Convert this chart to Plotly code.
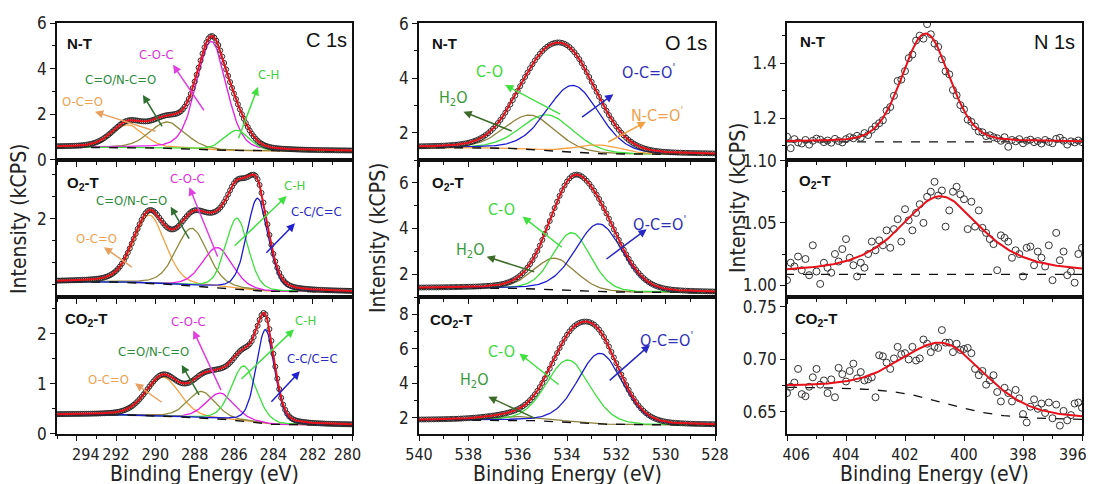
import numpy as np
import plotly.graph_objects as go

# page is rendered with an 8px body margin: figure pixel = reference pixel - OFF
OFF = 8
W, H = 1098, 484

# ======================= values =======================
# ---- C 1s (binding energy eV / kCPS) ----
C_NAMES_NT = ["O-C=O", "C=O/N-C=O", "C-O-C", "C-H"]
C_CENTER_NT = [291.4, 289.4, 287.15, 285.85]
C_HEIGHT_NT = [1.0, 1.15, 4.75, 0.9]
C_FWHM_NT = [1.9, 2.1, 1.8, 1.5]
C_BG_NT = [0.55, 0.38]

C_NAMES_O2 = ["O-C=O", "C=O/N-C=O", "C-O-C", "C-H", "C-C/C=C"]
C_CENTER_O2 = [290.3, 288.15, 286.85, 285.85, 284.8]
C_HEIGHT_O2 = [1.55, 1.3, 0.9, 1.6, 2.1]
C_FWHM_O2 = [1.9, 1.9, 1.8, 1.35, 1.3]
C_BG_O2 = [0.57, 0.34]

C_NAMES_CO2 = ["O-C=O", "C=O/N-C=O", "C-O-C", "C-H", "C-C/C=C"]
C_CENTER_CO2 = [289.6, 287.65, 286.7, 285.5, 284.4]
C_HEIGHT_CO2 = [0.78, 0.53, 0.52, 1.1, 1.88]
C_FWHM_CO2 = [2.0, 1.7, 1.7, 1.5, 1.1]
C_BG_CO2 = [0.38, 0.17]
C_ETA = 0.25

# ---- O 1s ----
O_NAMES_NT = ["H2O", "C-O", "O-C=O'", "N-C=O'"]
O_CENTER_NT = [535.5, 534.8, 533.75, 532.7]
O_HEIGHT_NT = [1.25, 1.3, 2.45, 0.32]
O_FWHM_NT = [2.4, 2.5, 2.5, 2.2]
O_BG_NT = [1.45, 1.2]

O_NAMES_O2 = ["H2O", "C-O", "O-C=O'"]
O_CENTER_O2 = [534.5, 533.8, 532.7]
O_HEIGHT_O2 = [1.35, 2.5, 2.95]
O_FWHM_O2 = [2.0, 1.8, 2.25]
O_BG_O2 = [1.39, 1.2]

O_NAMES_CO2 = ["H2O", "C-O", "O-C=O'"]
O_CENTER_CO2 = [536.0, 533.95, 532.65]
O_HEIGHT_CO2 = [0.22, 3.6, 4.1]
O_FWHM_CO2 = [2.6, 2.1, 2.15]
O_BG_CO2 = [1.85, 1.55]
O_ETA = 0.2

# ---- N 1s : measured points, 406 -> 396 eV, 0.125 eV step ----
N_START, N_STEP = 406.0, -0.125
N_NT_DATA = [1.133, 1.091, 1.124, 1.112, 1.108, 1.121, 1.104, 1.118, 1.126, 1.122, 1.113,
             1.119, 1.111, 1.125, 1.117, 1.112, 1.124,
             1.131, 1.127, 1.136, 1.129, 1.146, 1.139, 1.158, 1.171,
             1.182, 1.193, 1.228, 1.241, 1.282, 1.336, 1.341, 1.372,
             1.419, 1.432, 1.483, 1.501, 1.490, 1.543, 1.506, 1.472,
             1.460, 1.415, 1.371, 1.360, 1.303, 1.284, 1.248, 1.232,
             1.195, 1.187, 1.170, 1.152, 1.149, 1.135, 1.138, 1.131,
             1.127, 1.118, 1.131, 1.096, 1.121, 1.116, 1.124, 1.109, 1.118, 1.122, 1.113, 1.117,
             1.108, 1.121, 1.114, 1.109, 1.125, 1.129, 1.118, 1.104, 1.116, 1.112, 1.119, 1.113]
N_O2_DATA = [1.004, 1.018, 1.015, 1.023, 1.012, 1.021, 1.008, 1.032, 1.011, 1.001, 1.018,
             1.014, 1.010, 1.025, 1.019, 1.029, 1.037, 1.022, 1.016, 1.007, 1.018, 1.014,
             1.025, 1.035, 1.028, 1.036, 1.032, 1.044, 1.030, 1.045, 1.053, 1.035, 1.061,
             1.052, 1.044, 1.058, 1.065, 1.050, 1.071, 1.075, 1.083, 1.072, 1.076, 1.047,
             1.060, 1.075, 1.079, 1.073, 1.069, 1.045, 1.067, 1.047, 1.060, 1.046, 1.042,
             1.037, 1.033, 1.012, 1.040, 1.038, 1.035, 1.022, 1.028, 1.025, 1.007, 1.030,
             1.031, 1.016, 1.027, 1.022, 1.015, 1.032, 1.004, 1.042, 1.020, 1.027, 1.008,
             1.011, 1.002, 1.025, 1.030]
N_CO2_DATA = [0.668, 0.674, 0.678, 0.691, 0.667, 0.665, 0.674, 0.683, 0.691, 0.676, 0.680,
              0.668, 0.681, 0.664, 0.692, 0.686, 0.679, 0.689, 0.696, 0.682, 0.688, 0.680,
              0.681, 0.683, 0.664, 0.704, 0.703, 0.697, 0.691, 0.701, 0.712, 0.705, 0.706,
              0.700, 0.712, 0.699, 0.701, 0.719, 0.715, 0.707, 0.712, 0.711, 0.728, 0.716,
              0.716, 0.707, 0.715, 0.709, 0.710, 0.711, 0.706, 0.691, 0.685, 0.689, 0.676,
              0.680, 0.685, 0.669, 0.660, 0.673, 0.668, 0.660, 0.671, 0.663, 0.648, 0.640,
              0.655, 0.662, 0.653, 0.658, 0.649, 0.659, 0.644, 0.657, 0.637, 0.651, 0.642,
              0.647, 0.658, 0.659, 0.654]
# fitted N 1s peak: centre, height, fwhm, lorentz fraction ; background left/right
N_PEAK_NT = [401.3, 0.395, 1.9, 0.2]
N_BG_NT = [1.114, 1.114]
N_PEAK_O2 = [400.8, 0.0627, 3.3, 0.7]
N_BG_O2 = [1.0087, 1.0087]
N_PEAK_CO2 = [400.6, 0.057, 3.4, 0.4]
N_BG_CO2 = [0.6735, 0.643]

SAMPLES = ["N-T", "O<sub>2</sub>-T", "CO<sub>2</sub>-T"]
CORE_LEVELS = ["C 1s", "O 1s", "N 1s"]
# bottom-axis tick values / labels of each column
C_XTICKS = [294, 292, 290, 288, 286, 284, 282, 280]
O_XTICKS = [540, 538, 536, 534, 532, 530, 528]
N_XTICKS = [406, 404, 402, 400, 398, 396]

# ======================= styles / layout =======================
FONT = "Liberation Sans Narrow, Arial Narrow, DejaVu Sans Condensed, Arial, sans-serif"
FSP = "\u2007"  # figure space used to nudge the outermost tick labels inwards
LINE_COL = {"O-C=O": "#F4A040", "C=O/N-C=O": "#8F8A3C", "C-O-C": "#E81CE8", "C-H": "#3CE03C",
            "C-C/C=C": "#1C1CD0", "H2O": "#8F803C", "C-O": "#3CE03C", "O-C=O'": "#1C1CD0",
            "N-C=O'": "#F4A040"}
TXT_COL = {"O-C=O": "#F0A050", "C=O/N-C=O": "#2E8B3A", "C-O-C": "#E030E0", "C-H": "#40D040",
           "C-C/C=C": "#2A2AC8", "H2O": "#3A9A3A", "C-O": "#40D840", "O-C=O'": "#3030B8",
           "N-C=O'": "#F0A050"}
ARR_COL = {"O-C=O": "#E8A060", "C=O/N-C=O": "#2F6F30", "C-O-C": "#E040E0", "C-H": "#40E040",
           "C-C/C=C": "#2020D0", "H2O": "#3D6B2A", "C-O": "#40E040", "O-C=O'": "#2828C8",
           "N-C=O'": "#F0A040"}
LABEL_TXT = {"O-C=O": "O-C=O", "C=O/N-C=O": "C=O/N-C=O", "C-O-C": "C-O-C", "C-H": "C-H",
             "C-C/C=C": "C-C/C=C", "H2O": "H<sub>2</sub>O", "C-O": "C-O",
             "O-C=O'": "O-C=O<sup>'</sup>", "N-C=O'": "N-C=O<sup>'</sup>"}

COLS_PX = [(57, 352), (419, 715), (787, 1082)]
ROWS_PX = [(23, 160), (160, 297), (297, 434)]
XRANGE = [[295, 280], [540, 528], [406, 396]]
XTICKS = [C_XTICKS, O_XTICKS, N_XTICKS]
XPAD = [(2, 1), (0, 0), (2, 2)]  # figure spaces before first / after last label
YRANGE = [[[-0.01, 6.01], [0.227, 3.34], [-0.005, 2.74]],
          [[1.0, 6.02], [1.01, 6.99], [1.05, 9.02]],
          [[1.048, 1.547], [0.9905, 1.1005], [0.629, 0.7595]]]
YDTICK = [[2, 2, 1], [2, 2, 2], [0.2, 0.05, 0.05]]
YMINOR = [[1, 0.5, 0.5], [1, 1, 1], [0.1, 0.025, 0.025]]
YFMT = [["d", "d", "d"], ["d", "d", "d"], [".1f", ".2f", ".2f"]]

# label placement (text x,y ; arrow tail x,y ; arrow head x,y) in data units
LABELS = {
    (0, 0): [("O-C=O", 293.7, 2.56, 289.92, 1.23, 293.07, 2.11),
             ("C=O/N-C=O", 291.75, 3.51, 289.61, 1.40, 290.63, 2.85),
             ("C-O-C", 289.92, 4.61, 287.48, 2.11, 289.10, 4.17),
             ("C-H", 284.27, 3.73, 285.80, 0.88, 284.78, 3.20)],
    (0, 1): [("C=O/N-C=O", 291.2, 2.43, 288.24, 1.52, 289.22, 2.28),
             ("C-O-C", 288.37, 2.92, 286.80, 1.11, 288.27, 2.72),
             ("C-H", 282.9, 2.77, 286.04, 1.36, 283.32, 2.52),
             ("C-C/C=C", 281.8, 2.17, 284.43, 1.20, 282.90, 1.90),
             ("O-C=O", 292.98, 1.55, 291.12, 0.88, 292.61, 1.36)],
    (0, 2): [("C-O-C", 288.29, 2.25, 286.63, 0.85, 288.07, 2.07),
             ("C-H", 282.39, 2.27, 285.70, 1.07, 282.95, 2.09),
             ("C=O/N-C=O", 290.1, 1.65, 287.73, 0.75, 288.66, 1.38),
             ("C-C/C=C", 282.02, 1.51, 284.17, 0.61, 282.65, 1.25),
             ("O-C=O", 292.39, 1.08, 289.60, 0.61, 291.03, 1.01)],
    (1, 0): [("C-O", 537.16, 4.23, 534.22, 2.65, 536.51, 3.75),
             ("H2O", 538.59, 3.26, 536.18, 2.04, 538.20, 2.77),
             ("O-C=O'", 530.7, 4.23, 533.45, 2.53, 532.12, 3.41),
             ("N-C=O'", 530.34, 2.65, 532.39, 1.63, 530.80, 2.40)],
    (1, 1): [("C-O", 536.65, 4.81, 534.15, 3.13, 535.80, 4.52),
             ("H2O", 537.93, 3.06, 535.27, 2.09, 537.26, 2.77),
             ("O-C=O'", 530.23, 4.23, 532.46, 2.62, 530.77, 3.97)],
    (1, 2): [("C-O", 536.66, 5.84, 534.28, 3.86, 535.93, 5.74),
             ("H2O", 537.76, 4.19, 535.23, 1.92, 537.19, 3.22),
             ("O-C=O'", 529.96, 6.52, 532.33, 4.09, 530.64, 6.23)],
}
SAMPLE_POS = {(0, 0): (294.59, 5.12), (0, 1): (294.59, 2.81), (0, 2): (294.68, 2.28),
              (1, 0): (539.55, 5.27), (1, 1): (539.55, 5.97), (1, 2): (539.62, 7.68),
              (2, 0): (405.62, 1.479), (2, 1): (405.67, 1.0833), (2, 2): (405.81, 0.7376)}
CORE_POS = {0: (280.16, 5.26), 1: (528.23, 5.27), 2: (396.18, 1.479)}
LABEL_SIZE = [13, 16]


# ======================= model helpers =======================
def pv(E, c, h, w, eta):
    x = (E - c) / w
    return h * ((1 - eta) * np.exp(-4 * np.log(2) * x ** 2) + eta / (1 + 4 * x ** 2))


def shirley(E, total, left, right):
    cum = np.concatenate([[0.0], np.cumsum(0.5 * (total[1:] + total[:-1]) * np.diff(E))])
    frac = cum / cum[-1] if cum[-1] > 0 else np.zeros_like(cum)
    return right + (left - right) * frac


def axid(col, row):
    p = col * 3 + row
    return "" if p == 0 else str(p + 1)


def px_x(px):
    return (px - OFF) / W


def px_y(py):
    return 1 - (py - OFF) / H


def tick_text(vals, pad):
    txt = [str(v) for v in vals]
    txt[0] = FSP * pad[0] + txt[0]
    txt[-1] = txt[-1] + FSP * pad[1]
    return txt


fig = go.Figure()
E_C = np.linspace(280, 295, 301)
E_O = np.linspace(528, 540, 241)
E_N = np.linspace(396, 406, 201)

XPS = {
    (0, 0): (E_C, C_NAMES_NT, C_CENTER_NT, C_HEIGHT_NT, C_FWHM_NT, C_BG_NT, C_ETA),
    (0, 1): (E_C, C_NAMES_O2, C_CENTER_O2, C_HEIGHT_O2, C_FWHM_O2, C_BG_O2, C_ETA),
    (0, 2): (E_C, C_NAMES_CO2, C_CENTER_CO2, C_HEIGHT_CO2, C_FWHM_CO2, C_BG_CO2, C_ETA),
    (1, 0): (E_O, O_NAMES_NT, O_CENTER_NT, O_HEIGHT_NT, O_FWHM_NT, O_BG_NT, O_ETA),
    (1, 1): (E_O, O_NAMES_O2, O_CENTER_O2, O_HEIGHT_O2, O_FWHM_O2, O_BG_O2, O_ETA),
    (1, 2): (E_O, O_NAMES_CO2, O_CENTER_CO2, O_HEIGHT_CO2, O_FWHM_CO2, O_BG_CO2, O_ETA),
}
NDATA = {(2, 0): (N_NT_DATA, N_PEAK_NT, N_BG_NT),
         (2, 1): (N_O2_DATA, N_PEAK_O2, N_BG_O2),
         (2, 2): (N_CO2_DATA, N_PEAK_CO2, N_BG_CO2)}

annotations = []
for (col, row), (E, names, cen, hei, fw, bg, eta) in XPS.items():
    s = axid(col, row)
    xa, ya = "x" + s, "y" + s
    comps = [pv(E, c, h, w, eta) for c, h, w in zip(cen, hei, fw)]
    total = np.sum(comps, axis=0)
    B = shirley(E, total, bg[0], bg[1])
    for n, cp in zip(names, comps):
        fig.add_trace(go.Scatter(x=E, y=B + cp, mode="lines", xaxis=xa, yaxis=ya,
                                 line=dict(color=LINE_COL[n], width=1.3), hoverinfo="skip"))
    fig.add_trace(go.Scatter(x=E, y=B, mode="lines", xaxis=xa, yaxis=ya,
                             line=dict(color="#111", width=1.4, dash="dash")))
    fig.add_trace(go.Scatter(x=E[::2], y=(B + total)[::2], mode="markers", xaxis=xa, yaxis=ya,
                             marker=dict(symbol="circle-open", size=5, color="#2a2a2a",
                                         line=dict(width=1))))
    fig.add_trace(go.Scatter(x=E, y=B + total, mode="lines", xaxis=xa, yaxis=ya,
                             line=dict(color="#E8101A", width=2)))
    fs = LABEL_SIZE[col]
    for (n, tx, ty, ax_, ay_, hx, hy) in LABELS[(col, row)]:
        annotations.append(dict(x=tx, y=ty, xref=xa, yref=ya, text=LABEL_TXT[n], showarrow=False,
                                xanchor="center", yanchor="middle",
                                font=dict(size=fs, color=TXT_COL[n], family=FONT)))
        annotations.append(dict(x=hx, y=hy, ax=ax_, ay=ay_, xref=xa, yref=ya, axref=xa, ayref=ya,
                                text="", showarrow=True, arrowhead=2, arrowsize=1.1,
                                arrowwidth=1.5, arrowcolor=ARR_COL[n], standoff=0))

for (col, row), (vals, pk, bg) in NDATA.items():
    s = axid(col, row)
    xa, ya = "x" + s, "y" + s
    Ed = N_START + N_STEP * np.arange(len(vals))
    peak = pv(E_N, *pk)
    B = shirley(E_N, peak, bg[0], bg[1])
    fig.add_trace(go.Scatter(x=E_N, y=B, mode="lines", xaxis=xa, yaxis=ya,
                             line=dict(color="#111", width=1.3, dash="dash")))
    fig.add_trace(go.Scatter(x=Ed, y=vals, mode="markers", xaxis=xa, yaxis=ya,
                             marker=dict(symbol="circle-open", size=7, color="#333",
                                         line=dict(width=1))))
    fig.add_trace(go.Scatter(x=E_N, y=B + peak, mode="lines", xaxis=xa, yaxis=ya,
                             line=dict(color="#E8101A", width=2)))

layout = dict(width=W, height=H, template="none",
              margin=dict(l=0, r=0, t=0, b=0, pad=0, autoexpand=False), showlegend=False,
              paper_bgcolor="white", plot_bgcolor="white",
              font=dict(family=FONT, size=16, color="#222"))
for col in range(3):
    for row in range(3):
        s = axid(col, row)
        x0, x1 = COLS_PX[col]
        y0, y1 = ROWS_PX[row]
        layout["xaxis" + s] = dict(
            domain=[px_x(x0), px_x(x1)], anchor="y" + s, range=XRANGE[col],
            tickmode="array", tickvals=XTICKS[col], ticktext=tick_text(XTICKS[col], XPAD[col]),
            automargin=False, ticklabeloverflow="allow",
            showline=True, linecolor="#111", linewidth=1.5, mirror=True, ticks="outside",
            ticklen=5, tickwidth=1.2, tickcolor="#111", showgrid=False, zeroline=False,
            showticklabels=(row == 2), tickfont=dict(size=16),
            minor=dict(tickmode="linear", tick0=0, dtick=1, ticks="outside", ticklen=3,
                       tickcolor="#111", showgrid=False))
        layout["yaxis" + s] = dict(
            domain=[px_y(y1), px_y(y0)], anchor="x" + s, range=YRANGE[col][row],
            automargin=False, ticklabeloverflow="allow",
            dtick=YDTICK[col][row], tick0=0, tickformat=YFMT[col][row],
            showline=True, linecolor="#111", linewidth=1.5, mirror=True, ticks="outside",
            ticklen=5, tickwidth=1.2, tickcolor="#111", showgrid=False, zeroline=False,
            tickfont=dict(size=17),
            minor=dict(dtick=YMINOR[col][row], ticks="outside", ticklen=3, tickcolor="#111",
                       showgrid=False))
        sx, sy = SAMPLE_POS[(col, row)]
        annotations.append(dict(x=sx, y=sy, xref="x" + s, yref="y" + s, xanchor="left",
                                yanchor="middle",
                                text="<b>" + SAMPLES[row] + "</b>", showarrow=False,
                                font=dict(size=15, color="#111", family="Liberation Sans, Arial")))
    cx, cy = CORE_POS[col]
    annotations.append(dict(x=cx, y=cy, xref="x" + axid(col, 0), yref="y" + axid(col, 0),
                            xanchor="right", yanchor="middle", text=CORE_LEVELS[col], showarrow=False,
                            font=dict(size=20, color="#111", family="Liberation Sans, Arial")))
    # axis titles
    xc = px_x((COLS_PX[col][0] + COLS_PX[col][1]) / 2)
    annotations.append(dict(x=xc, y=px_y(474), xref="paper", yref="paper", text="Binding Energy (eV)",
                            xanchor="center", yanchor="middle",
                            showarrow=False, font=dict(size=21, color="#222")))
YT_POS = [(19, 219), (378, 238), (738, 198)]
for px, py in YT_POS:
    annotations.append(dict(x=px_x(px), y=px_y(py), xref="paper", yref="paper", text="Intensity (kCPS)",
                            xanchor="center", yanchor="middle",
                            textangle=-90, showarrow=False, font=dict(size=21, color="#222")))
layout["annotations"] = annotations
fig.update_layout(**layout)
fig.write_html("out.html")
